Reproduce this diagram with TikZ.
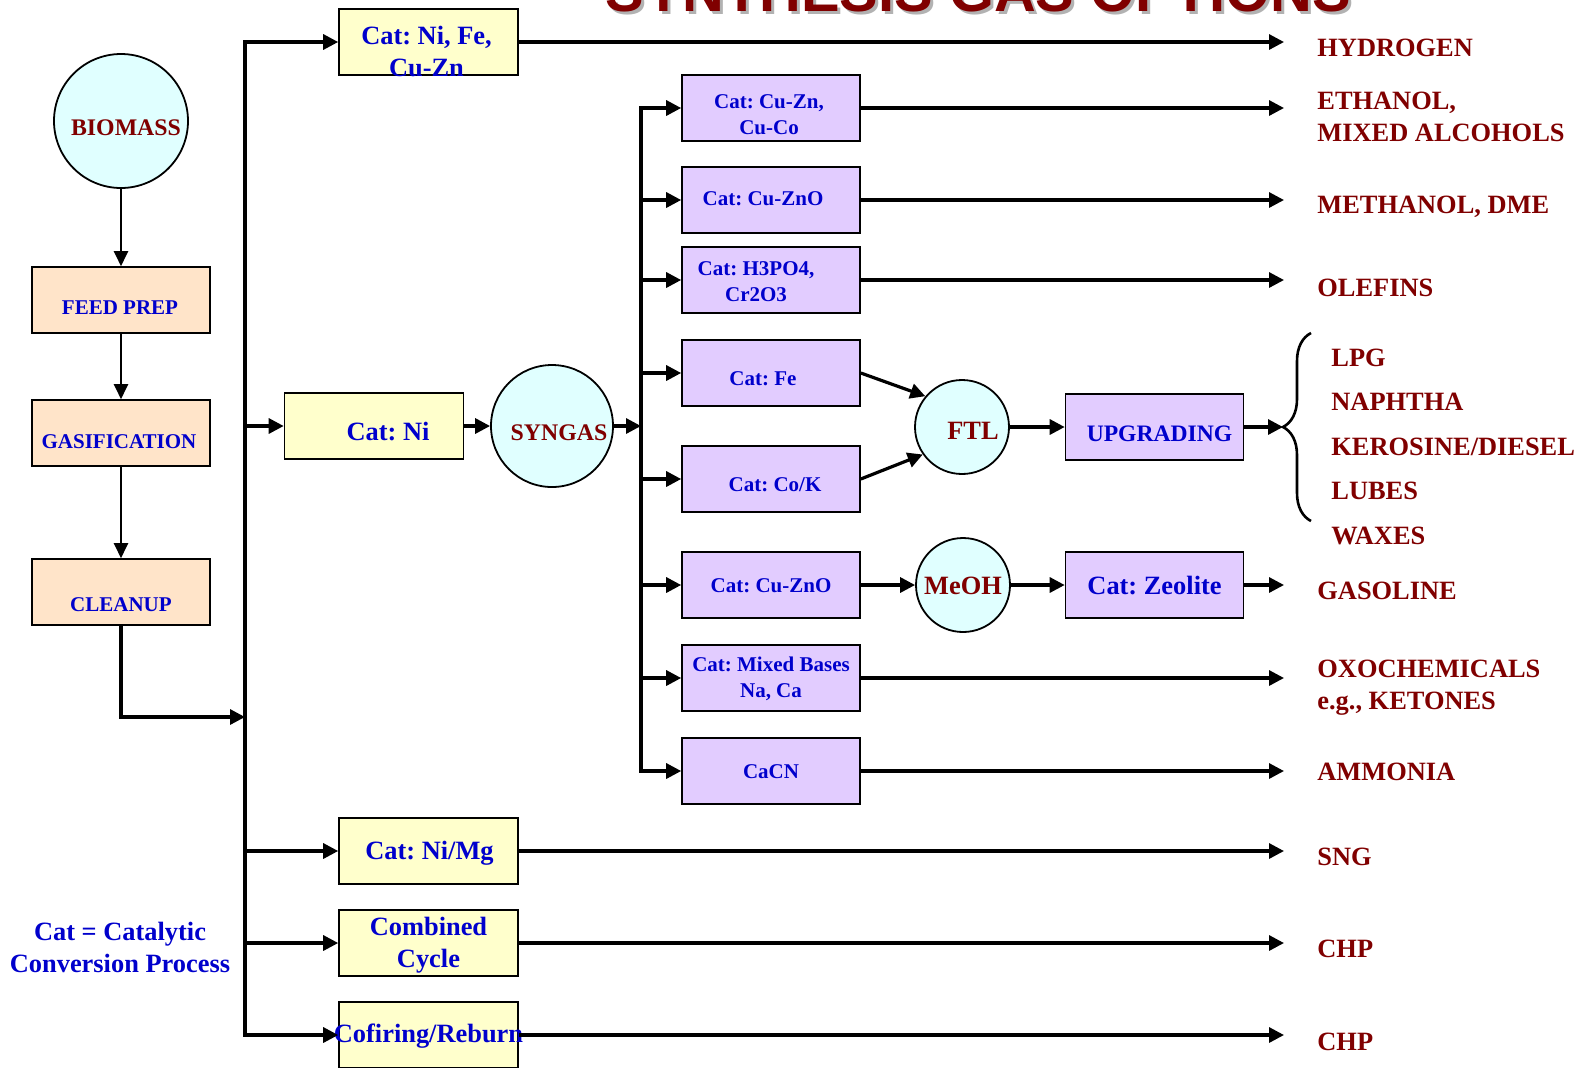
\documentclass[tikz,border=0pt]{standalone}
\usepackage{fontspec}
\setmainfont{Liberation Serif}
\setsansfont{Liberation Sans}
\usetikzlibrary{arrows.meta,decorations.pathreplacing}
\frenchspacing

\definecolor{cyanfill}{HTML}{E0FFFF}
\definecolor{yelfill}{HTML}{FFFFCC}
\definecolor{peachfill}{HTML}{FFE4C9}
\definecolor{lilac}{HTML}{E2CCFF}
\definecolor{catblue}{HTML}{0000CC}
\definecolor{prodred}{HTML}{800000}

\tikzset{
  wire/.style={line width=1.6pt},
  flow/.style={wire,-{Triangle[length=7.5pt,width=7.5pt]}},
  feedflow/.style={line width=1.1pt,-{Triangle[length=7.5pt,width=7pt]}},
  toprod/.style={flow,shorten >=16.5pt},
  bluetxt/.style={text=catblue,inner sep=0pt,align=center},
  redtxt/.style={text=prodred,inner sep=0pt,align=center},
  smallbold/.style={font=\bfseries\fontsize{10.5}{13}\selectfont},
  midbold/.style={font=\bfseries\fontsize{11.9}{14}\selectfont},
  bigbold/.style={font=\bfseries\fontsize{13.2}{16}\selectfont},
  flowbox/.style={draw,line width=0.8pt,minimum width=89pt,minimum height=33pt,inner sep=0pt},
  stage/.style={flowbox,fill=peachfill},
  ybox/.style={flowbox,fill=yelfill,minimum width=89.5pt,bluetxt,bigbold},
  pbox/.style={flowbox,fill=lilac,bluetxt,smallbold},
  hub/.style={circle,draw,line width=0.9pt,fill=cyanfill,redtxt},
  product/.style={anchor=west,align=left,text=prodred,inner sep=0pt,bigbold},
  headline/.style={anchor=base,inner sep=0pt,text=prodred,font=\sffamily\bfseries\fontsize{28.9}{30}\selectfont},
}

\begin{document}
\begin{tikzpicture}[x=0.5pt,y=-0.5pt]
\useasboundingbox (0,0) rectangle (1579,1067);

% title, cut off by the top edge
\node[headline,text=black!30] (title-sh) at (981,14) {SYNTHESIS GAS OPTIONS};
\node[headline] (title) at (978,11) {SYNTHESIS GAS OPTIONS};

% feed line
\node[hub,minimum size=67pt,label={[redtxt,midbold,shift={(2.5pt,-3.5pt)}]center:BIOMASS}] (bio) at (121,121) {};
\node[stage,label={[bluetxt,smallbold,shift={(-0.5pt,-4pt)}]center:FEED PREP}] (feed) at (121,300) {};
\node[stage,label={[bluetxt,smallbold,shift={(-1pt,-4.5pt)}]center:GASIFICATION}] (gasif) at (121,433) {};
\node[stage,label={[bluetxt,smallbold,shift={(0pt,-6.5pt)}]center:CLEANUP}] (clean) at (121,592) {};
\draw[feedflow] (bio) -- (feed);
\draw[feedflow] (feed) -- (gasif);
\draw[feedflow] (gasif) -- (clean);

\coordinate (bus) at (245,0);
\coordinate (bus2) at (641,0);
\coordinate (merge) at (245,717);
\draw[flow] (clean.south) |- (merge);

% first catalysts
\node[ybox,label={[bluetxt,bigbold,shift={(-1pt,-4.5pt)}]center:{Cat: Ni, Fe,\\Cu-Zn}}] (nife) at (428.5,42) {};
\node[ybox,label={[bluetxt,bigbold,shift={(7pt,-3pt)}]center:{Cat: Ni}}] (ni) at (374,426) {};
\node[ybox,label={[bluetxt,bigbold,shift={(0.5pt,-1pt)}]center:{Cat: Ni/Mg}}] (nimg) at (428.5,851) {};
\node[ybox,label={[bluetxt,bigbold,shift={(0pt,-1pt)}]center:{Combined\\Cycle}}] (combined) at (428.5,943) {};
\node[ybox,label={[bluetxt,bigbold,shift={(0pt,-0.5pt)}]center:Cofiring/Reburn}] (cofire) at (428.5,1035) {};

\draw[flow] (bus |- ni.west) |- (nife.west);
\draw[flow] (bus |- ni.west) |- (cofire.west);
\foreach \b in {ni,nimg,combined}
  \draw[flow] (bus |- \b.west) -- (\b.west);

% syngas
\node[hub,minimum size=61pt,label={[redtxt,midbold,shift={(3.5pt,-3.5pt)}]center:SYNGAS}] (syn) at (552,426) {};
\draw[flow] (ni) -- (syn);
\draw[flow] (syn) -- (syn.east -| bus2);

\node[pbox,label={[bluetxt,smallbold,shift={(-1pt,-3.5pt)}]center:{Cat: Cu-Zn,\\Cu-Co}}] (cuzn) at (771,108) {};
\node[pbox,label={[bluetxt,smallbold,shift={(-4pt,0.5pt)}]center:{Cat: Cu-ZnO}}] (cuzno) at (771,200) {};
\node[pbox,label={[bluetxt,smallbold,shift={(-7.5pt,-1pt)}]center:{Cat: H3PO4,\\Cr2O3}}] (acid) at (771,280) {};
\node[pbox,label={[bluetxt,smallbold,shift={(-4pt,-3pt)}]center:{Cat: Fe}}] (fe) at (771,373) {};
\node[pbox,label={[bluetxt,smallbold,shift={(2pt,-3pt)}]center:{Cat: Co/K}}] (cok) at (771,479) {};
\node[pbox,label={[bluetxt,smallbold,shift={(0pt,-0.5pt)}]center:{Cat: Cu-ZnO}}] (cuzno2) at (771,585) {};
\node[pbox,label={[bluetxt,smallbold,shift={(0pt,-0.5pt)}]center:{Cat: Mixed Bases\\Na, Ca}}] (mixed) at (771,678) {};
\node[pbox,label={[bluetxt,smallbold,shift={(0pt,-0.5pt)}]center:CaCN}] (cacn) at (771,771) {};

\draw[flow] (syn.east -| bus2) |- (cuzn.west);
\draw[flow] (syn.east -| bus2) |- (cacn.west);
\foreach \b in {cuzno,acid,fe,cok,cuzno2,mixed}
  \draw[flow] (bus2 |- \b.west) -- (\b.west);

% Fischer-Tropsch and methanol
\node[hub,minimum size=47pt,label={[redtxt,bigbold,shift={(5.5pt,-2pt)}]center:FTL}] (ftl) at (962,427) {};
\node[pbox,label={[bluetxt,font=\bfseries\fontsize{11.8}{14}\selectfont,shift={(2.5pt,-3.5pt)}]center:UPGRADING}] (upg) at (1154.5,427) {};
\node[hub,minimum size=47pt,label={[redtxt,bigbold,shift={(0pt,-0.5pt)}]center:MeOH}] (meoh) at (963,585) {};
\node[pbox,label={[bluetxt,bigbold,shift={(0pt,-0.5pt)}]center:{Cat: Zeolite}}] (zeo) at (1154.5,585) {};
\draw[flow] (fe.east) -- (ftl.140);
\draw[flow] (cok.east) -- (ftl.215);
\draw[flow] (ftl) -- (upg);
\draw[flow] (cuzno2) -- (meoh);
\draw[flow] (meoh) -- (zeo);

\coordinate (fan) at (1283,427);
\draw[flow] (upg.east) -- (fan);
\draw[line width=1.3pt,decorate,decoration={brace,amplitude=14pt}] (1311,521) -- (1311,333);

% products
\node[product] (hydro) at (1317,48) {HYDROGEN};
\node[product] (ethanol) at (1317,117) {ETHANOL,\\MIXED ALCOHOLS};
\node[product] (methanol) at (1317,207) {METHANOL, DME};
\node[product] (olefins) at (1317,288) {OLEFINS};
\node[product] (lpg) at (1331,358) {LPG};
\node[product] (naphtha) at (1331,402) {NAPHTHA};
\node[product] (kero) at (1331,447) {KEROSINE/DIESEL};
\node[product] (lubes) at (1331,491) {LUBES};
\node[product] (waxes) at (1331,536) {WAXES};
\node[product] (gasoline) at (1317,591) {GASOLINE};
\node[product] (oxo) at (1317,687.5) {OXOCHEMICALS\\e.g., KETONES};
\node[product] (ammonia) at (1317,772) {AMMONIA};
\node[product] (sng) at (1317,857) {SNG};
\node[product] (chpa) at (1317,949) {CHP};
\node[product] (chpb) at (1317,1042) {CHP};

\foreach \b/\p in {nife/hydro,cuzn/ethanol,cuzno/methanol,acid/olefins,zeo/gasoline,
                   mixed/oxo,cacn/ammonia,nimg/sng,combined/chpa,cofire/chpb}
  \draw[toprod] (\b.east) -- (\b.east -| \p.west);

\node[bluetxt,bigbold] (catnote) at (120,947) {Cat = Catalytic\\Conversion Process};
\end{tikzpicture}
\end{document}
